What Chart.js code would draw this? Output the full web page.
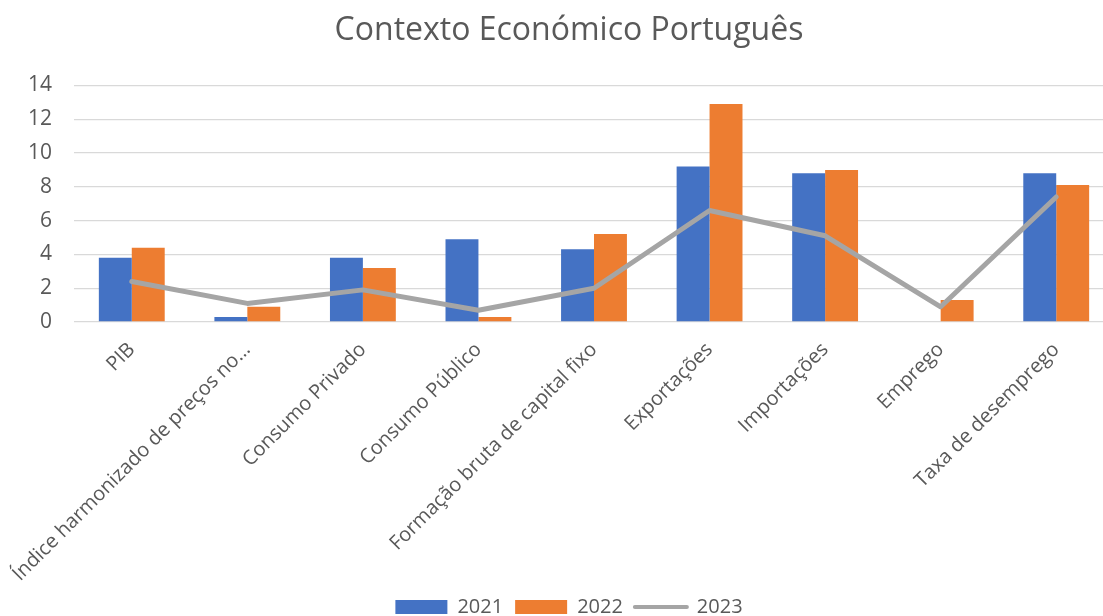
<!DOCTYPE html>
<html>
<head>
<meta charset="utf-8">
<script src="https://cdn.jsdelivr.net/npm/chart.js@4/dist/chart.umd.min.js"></script>
<style>
  html, body { margin: 0; padding: 0; background: #fff; overflow: hidden; }
  #wrap { width: 1146px; height: 630px; }
</style>
</head>
<body>
<div id="wrap"><canvas id="economia"></canvas></div>
<script>
const categorias = [
  "PIB",
  "Índice harmonizado de preços no…",
  "Consumo Privado",
  "Consumo Público",
  "Formação bruta de capital fixo",
  "Exportações",
  "Importações",
  "Emprego",
  "Taxa de desemprego"
];
const valores2021 = [3.8, 0.3, 3.8, 4.9, 4.3, 9.2, 8.8, null, 8.8];
const valores2022 = [4.4, 0.9, 3.2, 0.3, 5.2, 12.9, 9.0, 1.3, 8.1];
const valores2023 = [2.4, 1.1, 1.9, 0.7, 2.0, 6.6, 5.1, 0.9, 7.4];
const yTicks = [0, 2, 4, 6, 8, 10, 12, 14];

const cinzaTexto = "#595959";
const fonte = "'Open Sans', sans-serif";

let ctx = document.getElementById("economia");

let myChart = new Chart(ctx, {
  type: 'bar',
  data: {
    labels: categorias,
    datasets: [
      {
        label: "2021",
        data: valores2021,
        backgroundColor: "#4472c4",
        borderWidth: 0,
        order: 1
      },
      {
        label: "2022",
        data: valores2022,
        backgroundColor: "#ed7d31",
        borderWidth: 0,
        order: 1
      },
      {
        type: 'line',
        label: "2023",
        data: valores2023,
        borderColor: "#a5a5a5",
        backgroundColor: "#a5a5a5",
        borderWidth: 5,
        borderJoinStyle: 'round',
        borderCapStyle: 'round',
        pointRadius: 0,
        pointHoverRadius: 0,
        tension: 0,
        order: 0
      }
    ]
  },
  options: {
    responsive: true,
    maintainAspectRatio: false,
    animation: false,
    categoryPercentage: 0.57,
    barPercentage: 1.0,
    layout: {
      padding: { left: 24, right: 32, top: 0, bottom: 3 }
    },
    plugins: {
      tooltip: { enabled: false },
      title: {
        display: true,
        text: "Contexto Económico Português",
        color: cinzaTexto,
        font: { family: fonte, size: 32, weight: 'normal' },
        padding: { top: 12, bottom: 35 }
      },
      legend: {
        position: 'bottom',
        labels: {
          color: cinzaTexto,
          font: { family: fonte, size: 20 },
          usePointStyle: true,
          pointStyleWidth: 52,
          boxHeight: 14,
          padding: 12,
          generateLabels: chart => chart.data.datasets.map((ds, i) => ({
            text: ds.label,
            fillStyle: ds.type === 'line' ? 'rgba(0,0,0,0)' : ds.backgroundColor,
            strokeStyle: ds.type === 'line' ? ds.borderColor : ds.backgroundColor,
            lineWidth: ds.type === 'line' ? 4 : 0,
            lineCap: 'round',
            pointStyle: ds.type === 'line' ? 'line' : 'rect',
            fontColor: cinzaTexto,
            hidden: false,
            datasetIndex: i
          }))
        }
      }
    },
    scales: {
      x: {
        grid: { display: false, drawTicks: false },
        border: { display: false },
        ticks: {
          color: cinzaTexto,
          font: { family: fonte, size: 20 },
          maxRotation: 45,
          minRotation: 45,
          autoSkip: false,
          padding: 16
        },
        afterFit: scale => { scale.height = 263; }
      },
      y: {
        min: 0,
        max: 14,
        afterBuildTicks: scale => { scale.ticks = yTicks.map(v => ({ value: v })); },
        grid: { color: "#d9d9d9", lineWidth: 1.3, drawTicks: false },
        border: { display: false },
        ticks: {
          color: cinzaTexto,
          font: { family: fonte, size: 21 },
          padding: 22
        },
        afterFit: scale => { scale.width = 50; }
      }
    }
  }
});
</script>
</body>
</html>
